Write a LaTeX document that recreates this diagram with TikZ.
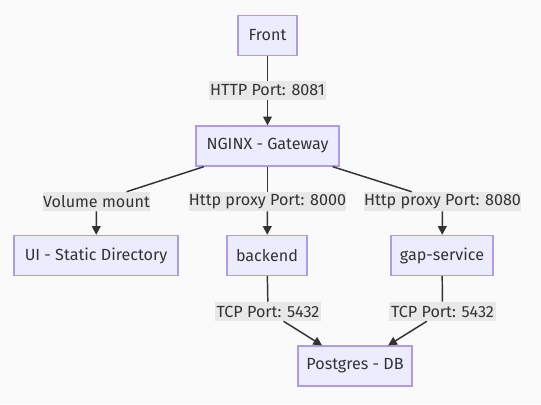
\documentclass[tikz,border=0pt]{standalone}
\usepackage{fontspec}
\setmainfont{Fira Sans}
\usetikzlibrary{arrows.meta}
\definecolor{bgc}{HTML}{FAFAFA}
\definecolor{nodefill}{HTML}{ECECFF}
\definecolor{nodeline}{HTML}{B29AE6}
\definecolor{edgec}{HTML}{333333}
\definecolor{lblfill}{HTML}{E8E8E8}
\definecolor{txt}{HTML}{333333}
\tikzset{
  box/.style={draw=nodeline, fill=nodefill, line width=1pt, minimum height=30pt, inner sep=0pt, text=txt, font=\fontsize{12.1}{14}\selectfont},
  lbl/.style={fill=lblfill, minimum height=14.25pt, inner sep=0pt, text=txt, font=\fontsize{12.1}{14}\selectfont},
  conn/.style={draw=edgec, line width=1.1pt, -{Triangle[length=6.5pt,width=6.5pt]}},
  seg/.style={draw=edgec, line width=1.1pt}
}
\begin{document}
\begin{tikzpicture}[x=0.75pt,y=-0.75pt]
\useasboundingbox[fill=bgc] (0,0) rectangle (541,404);
% nodes
\node[box, minimum width=44.25pt] (front) at (267.5,35.5) {Front};
\node[box, minimum width=107.25pt] (nginx) at (267.5,146) {NGINX - Gateway};
\node[box, minimum width=123pt] (ui) at (96,255.5) {UI - Static Directory};
\node[box, minimum width=60pt] (backend) at (267,255.5) {backend};
\node[box, minimum width=76.5pt] (gap) at (442,255.5) {gap-service};
\node[box, minimum width=85.5pt] (pg) at (355,366) {Postgres - DB};
% labels
\node[lbl, minimum width=87.75pt] (l1) at (267.5,90.5) {HTTP Port: 8081};
\node[lbl, minimum width=77.25pt] (l2) at (96.5,201.5) {Volume mount};
\node[lbl, minimum width=116.25pt] (l3) at (267.5,201.5) {Http proxy Port: 8000};
\node[lbl, minimum width=116.25pt] (l4) at (442.5,201.5) {Http proxy Port: 8080};
\node[lbl, minimum width=79.5pt] (l5) at (268,311.5) {TCP Port: 5432};
\node[lbl, minimum width=80.25pt] (l6) at (442.5,311.5) {TCP Port: 5432};
% connectors
\path[seg] (front) -- (l1);
\path[conn] (l1) -- (nginx);
\path[seg] (nginx) -- (l2);
\path[conn] (l2) -- (ui);
\path[seg] (nginx) -- (l3);
\path[conn] (l3) -- (backend);
\path[seg] (nginx) -- (l4);
\path[conn] (l4) -- (gap);
\path[seg] (backend) -- (l5);
\path[conn] (l5) -- (pg);
\path[seg] (gap) -- (l6);
\path[conn] (l6) -- (pg);
\end{tikzpicture}
\end{document}
